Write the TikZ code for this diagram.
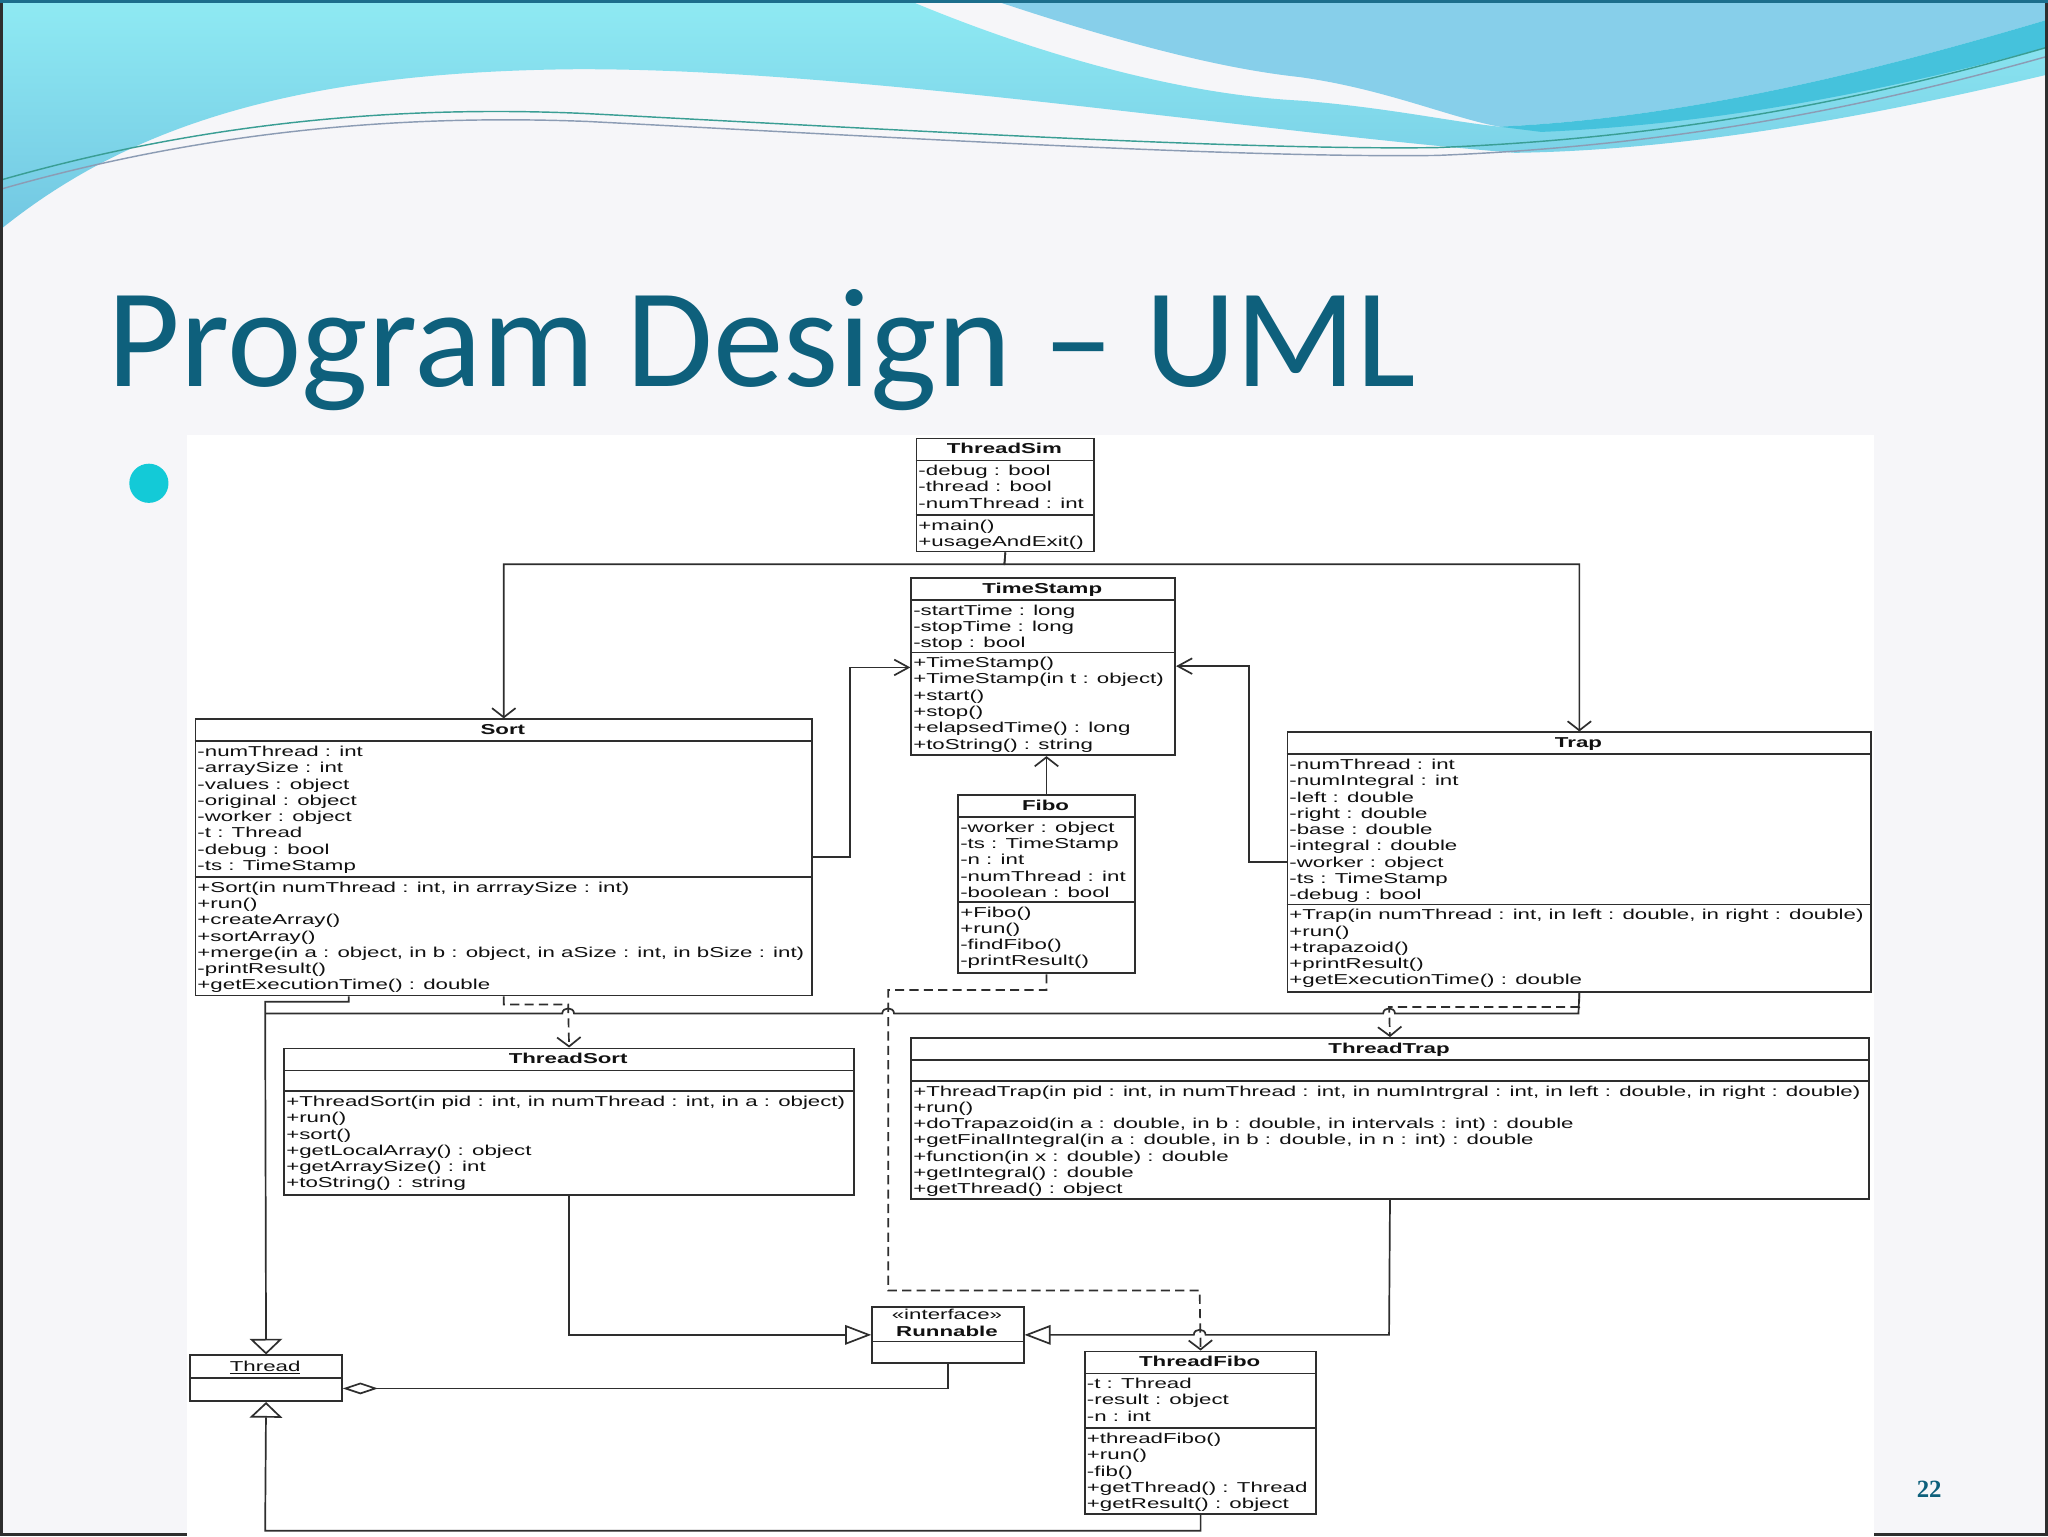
\documentclass[tikz,border=0pt]{standalone}
\usepackage{fontspec}
\usetikzlibrary{arrows.meta,calc}
\newfontfamily\umlf[FakeStretch=1.55]{Liberation Sans}
\newfontfamily\titlef{Carlito}
\newfontfamily\pnumf{Liberation Serif}
\definecolor{slidebg}{HTML}{F6F6F9}
\definecolor{titlec}{HTML}{0E607C}
\definecolor{bulc}{HTML}{13CAD7}
\definecolor{cyanA}{HTML}{8FEAF3}
\definecolor{cyanB}{HTML}{72C7E2}
\definecolor{blueB}{HTML}{87CFEA}
\definecolor{bandc}{HTML}{45C2DC}
\definecolor{topc}{HTML}{1C6E8C}
\definecolor{linec}{HTML}{2E2E2E}
\definecolor{txtc}{HTML}{111111}
\definecolor{wlineA}{HTML}{3A9E94}
\definecolor{wlineB}{HTML}{8C9CB4}
\newcommand\umlfs{\umlf\fontsize{11}{12.45}\selectfont}
\newcommand\sr{\rule{0pt}{8.5pt}}
\tikzset{
  box/.style={draw=linec, line width=1.4pt, fill=white, inner sep=0pt, anchor=north west},
  sepl/.style={draw=linec, line width=1.3pt},
  ttl/.style={anchor=base, inner sep=0pt, font=\umlfs\bfseries, text=txtc},
  txt/.style={anchor=north west, inner sep=0pt, align=left, font=\umlfs, text=txtc},
  conn/.style={draw=linec, line width=1.3pt},
  barbv/.style={conn, -{Straight Barb[length=7pt,width=18pt]}},
  barbh/.style={conn, -{Straight Barb[length=11pt,width=12pt]}},
  depv/.style={barbv, dash pattern=on 7pt off 4pt},
  genv/.style={conn, -{Triangle[length=12pt,width=25pt,fill=white]}},
  genh/.style={conn, -{Triangle[length=20pt,width=15pt,fill=white]}},
  aggr/.style={conn, -{Diamond[length=27pt,width=9pt,fill=white]}},
}
% name, x, y, w, attr-h, meth-h, title, attrs, methods
\newcommand\umlclass[9]{%
  \node[box, minimum width=#4, minimum height={17.5+#5+#6}] (#1) at (#2,#3) {};
  \draw[sepl] (#2,{#3+17.5}) -- ++(#4,0);
  \draw[sepl] (#2,{#3+17.5+#5}) -- ++(#4,0);
  \node[ttl] (#1-t) at ({#2+#4/2},{#3+12.5}) {#7};
  \node[txt] (#1-a) at ({#2+2},{#3+17.5+3}) {\sr#8};
  \node[txt] (#1-m) at ({#2+2},{#3+17.5+#5+3}) {\sr#9};
}
\begin{document}
\begin{tikzpicture}[x=1pt,y=-1pt]
\useasboundingbox (0,0) rectangle (1568,1176);
\fill[slidebg] (0,0) rectangle (1568,1176);
% waves
\shade[top color=cyanA, bottom color=cyanB]
  (0,0) -- (695,0) .. controls (790,40) and (900,72) .. (995,77)
  .. controls (1060,82) and (1110,93) .. (1148,97)
  .. controls (1300,90) and (1450,50) .. (1568,15) -- (1568,57)
  .. controls (1450,85) and (1300,115) .. (1160,117)
  .. controls (950,100) and (650,52) .. (440,53)
  .. controls (230,55) and (100,95) .. (0,176) -- cycle;
\fill[blueB] (760,0) .. controls (850,30) and (930,52) .. (995,59)
  .. controls (1060,68) and (1110,90) .. (1148,97)
  .. controls (1300,90) and (1450,50) .. (1568,15) -- (1568,0) -- cycle;
\fill[bandc] (1148,97) .. controls (1300,90) and (1450,50) .. (1568,15) -- (1568,36)
  .. controls (1450,68) and (1320,95) .. (1180,101) -- cycle;
\draw[line width=1.1pt, wlineA] (0,138) .. controls (150,95) and (300,80) .. (450,87)
  .. controls (700,100) and (950,115) .. (1100,113) .. controls (1300,105) and (1450,70) .. (1568,36);
\draw[line width=1.1pt, wlineB] (0,145) .. controls (150,102) and (300,87) .. (450,93)
  .. controls (700,106) and (950,121) .. (1100,119) .. controls (1300,111) and (1450,76) .. (1568,43);
% slide border
\draw[line width=2pt, linec] (1,0) -- (1,1175) -- (1567,1175) -- (1567,0);
\draw[line width=2.5pt, topc] (0,1) -- (1568,1);
% title and bullet
\node[anchor=base west, inner sep=0pt, font=\titlef\fontsize{108}{120}\selectfont, text=titlec] (title) at (82,296) {Program Design – UML};
\node[circle, fill=bulc, minimum size=30pt, inner sep=0pt] (bullet) at (114,370) {};
\node[font=\pnumf\bfseries\fontsize{19}{20}\selectfont, text=titlec, inner sep=0pt] (pnum) at (1477,1140) {22};
% UML picture area
\fill[white] (143,333) rectangle (1435,1176);
% classes
\umlclass{threadsim}{701}{335}{136}{42}{27}{ThreadSim}
  {-debug : bool\\-thread : bool\\-numThread : int}
  {+main()\\+usageAndExit()}
\umlclass{timestamp}{697}{442}{202}{40}{78}{TimeStamp}
  {-startTime : long\\-stopTime : long\\-stop : bool}
  {+TimeStamp()\\+TimeStamp(in t : object)\\+start()\\+stop()\\+elapsedTime() : long\\+toString() : string}
\umlclass{sort}{149}{550}{472}{104}{90}{Sort}
  {-numThread : int\\-arraySize : int\\-values : object\\-original : object\\-worker : object\\-t : Thread\\-debug : bool\\-ts : TimeStamp}
  {+Sort(in numThread : int, in arrraySize : int)\\+run()\\+createArray()\\+sortArray()\\+merge(in a : object, in b : object, in aSize : int, in bSize : int)\\-printResult()\\+getExecutionTime() : double}
\umlclass{fibo}{733}{608}{135}{65}{54}{Fibo}
  {-worker : object\\-ts : TimeStamp\\-n : int\\-numThread : int\\-boolean : bool}
  {+Fibo()\\+run()\\-findFibo()\\-printResult()}
\umlclass{trap}{985}{560}{447}{115}{66}{Trap}
  {-numThread : int\\-numIntegral : int\\-left : double\\-right : double\\-base : double\\-integral : double\\-worker : object\\-ts : TimeStamp\\-debug : bool}
  {+Trap(in numThread : int, in left : double, in right : double)\\+run()\\+trapazoid()\\+printResult()\\+getExecutionTime() : double}
\umlclass{threadsort}{217}{802}{436}{16}{79}{ThreadSort}
  {}
  {+ThreadSort(in pid : int, in numThread : int, in a : object)\\+run()\\+sort()\\+getLocalArray() : object\\+getArraySize() : int\\+toString() : string}
\umlclass{threadtrap}{697}{794}{733}{16}{90}{ThreadTrap}
  {}
  {+ThreadTrap(in pid : int, in numThread : int, in numIntrgral : int, in left : double, in right : double)\\+run()\\+doTrapazoid(in a : double, in b : double, in intervals : int) : double\\+getFinalIntegral(in a : double, in b : double, in n : int) : double\\+function(in x : double) : double\\+getIntegral() : double\\+getThread() : object}
\umlclass{threadfibo}{830}{1034}{177}{42}{65}{ThreadFibo}
  {-t : Thread\\-result : object\\-n : int}
  {+threadFibo()\\+run()\\-fib()\\+getThread() : Thread\\+getResult() : object}
% Runnable
\node[box, minimum width=116, minimum height=43] (runnable) at (667,1000) {};
\draw[sepl] (667,1027) -- ++(116,0);
\node[anchor=base, inner sep=0pt, font=\umlfs, text=txtc] (runnable-s) at (725,1010.5) {«interface»};
\node[ttl] (runnable-t) at (725,1023) {Runnable};
% Thread
\node[box, minimum width=116, minimum height=35] (thread) at (145,1037) {};
\draw[sepl] (145,1055) -- ++(116,0);
\node[anchor=base, inner sep=0pt, font=\umlfs, text=txtc] (thread-t) at (203,1050) {\underline{Thread}};
% connectors
\draw[barbv] (threadsim.south) -- (769,432) -| (sort.north);
\draw[barbv] (threadsim.south) -- (769,432) -| (trap.north);
\draw[barbh] ([yshift=-106pt]sort.north east) -| (651,511) -- ([yshift=-69pt]timestamp.north west);
\draw[barbh] ([yshift=-100pt]trap.north west) -| (956,510) -- ([yshift=-68pt]timestamp.north east);
\draw[barbv] (fibo.north) -- (fibo.north |- timestamp.south);
\coordinate (join) at (203,776);
\draw[genv] ([xshift=118pt]sort.south west) |- (203,767) -- (thread.north);
\draw[conn] (trap.south) -- (1208.5,776) -- (1068,776)
  .. controls (1068,770.7) and (1059,770.7) .. (1059,776) -- (684.5,776)
  .. controls (684.5,770.7) and (675.5,770.7) .. (675.5,776) -- (439.5,776)
  .. controls (439.5,770.7) and (430.5,770.7) .. (430.5,776) -- (join);
\draw[depv] (sort.south) |- (435,769) -- (threadsort.north);
\draw[depv] (trap.south) |- (1063.5,771) -- (threadtrap.north);
\draw[depv] (fibo.south) |- (680,758) |- (918.5,988) -- (threadfibo.north);
\draw[genh] (threadsort.south) |- ([yshift=-22pt]runnable.north west);
\draw[genh] (threadtrap.south) -- (1063.5,1022) -- (923,1022)
  .. controls (923,1016.7) and (914,1016.7) .. (914,1022) -- ([yshift=-22pt]runnable.north east);
\draw[aggr] (runnable.south) |- ([yshift=-26pt]thread.north east);
\draw[genv] (threadfibo.south) |- (203,1172) -- (thread.south);
\end{tikzpicture}
\end{document}
